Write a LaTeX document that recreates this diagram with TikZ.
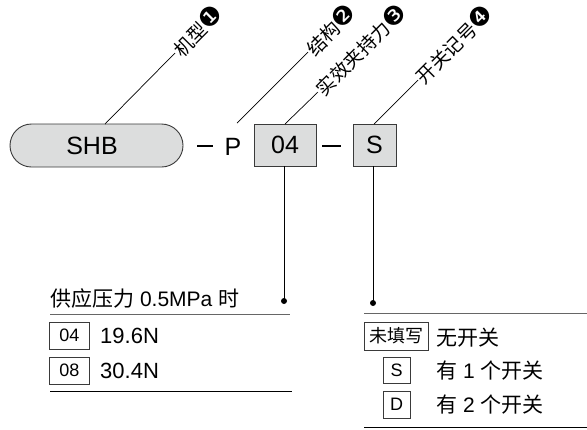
\documentclass[tikz,border=0pt]{standalone}
\usepackage{fontspec}
\setmainfont{Liberation Sans}
\newfontfamily\cjk{Noto Sans CJK SC}
\newfontfamily\dvs[Scale=1.35]{DejaVu Sans}
\usetikzlibrary{shapes.misc}
\definecolor{boxfill}{HTML}{DCDDDD}
\definecolor{edgecol}{HTML}{3A3A3A}
\definecolor{rulecol}{HTML}{666666}
\newcommand\fsz[1]{\fontsize{#1bp}{#1bp}\selectfont}
\tikzset{
  codebox/.style={draw=edgecol, line width=0.9bp, fill=boxfill, inner sep=0pt, font=\fsz{25}},
  tbox/.style={draw=edgecol, line width=0.9bp, inner sep=0pt, font=\fsz{18}},
  leader/.style={line width=0.7bp},
  lbl/.style={anchor=west, rotate=45, inner sep=1bp, font=\fsz{19}},
  big/.style={inner sep=0pt, font=\fsz{25}},
  rowtxt/.style={anchor=west, inner sep=0pt, font=\fsz{22}},
  stem/.style={line width=0.9bp},
  dotmark/.style={circle, fill=black, inner sep=0pt, minimum size=6bp},
  hrule/.style={line width=1bp, draw=rulecol},
  brule/.style={line width=1bp, draw=black}
}
\begin{document}
\begin{tikzpicture}[x=1bp, y=-1bp]
\useasboundingbox (0,0) rectangle (587,429);
% code row
\node[codebox, rounded rectangle, minimum width=173bp, minimum height=43bp] (pill) at (96.5,145.5) {};
\node[big] (shb) at (92,146) {SHB};
\coordinate (d1a) at (197,146);
\coordinate (d1b) at (213,146);
\draw[line width=1.2bp] (d1a) -- (d1b);
\node[big] (p) at (233,147) {P};
\node[codebox, minimum width=62bp, minimum height=42bp] (b04) at (285,145) {04};
\coordinate (d2a) at (322,146);
\coordinate (d2b) at (341,146);
\draw[line width=1.2bp] (d2a) -- (d2b);
\node[codebox, minimum width=43bp, minimum height=42bp] (bS) at (374.5,145) {S};
% leaders
\coordinate (l1a) at (105,124);
\coordinate (l1b) at (175,53);
\coordinate (l2a) at (237,123);
\coordinate (l2b) at (308,52);
\coordinate (l3a) at (285,124);
\coordinate (l3b) at (318,92);
\coordinate (l4a) at (374,124);
\coordinate (l4b) at (418,80);
\draw[leader] (l1a) -- (l1b);
\draw[leader] (l2a) -- (l2b);
\draw[leader] (l3a) -- (l3b);
\draw[leader] (l4a) -- (l4b);
\node[lbl] (t1) at (l1b) {{\cjk 机型}{\dvs ❶}};
\node[lbl] (t2) at (l2b) {{\cjk 结构}{\dvs ❷}};
\node[lbl] (t3) at (l3b) {{\cjk 实效夹持力}{\dvs ❸}};
\node[lbl] (t4) at (l4b) {{\cjk 开关记号}{\dvs ❹}};
% stems
\node[dotmark] (dot1) at (284,301) {};
\node[dotmark] (dot2) at (373,303) {};
\draw[stem] (b04.south -| dot1) -- (dot1.center);
\draw[stem] (bS.south -| dot2) -- (dot2.center);
% table 1
\node[anchor=west, inner sep=0pt, font=\fsz{21}] (h1) at (50,298) {{\cjk 供应压力} 0.5MPa {\cjk 时}};
\coordinate (h1l) at (50,314);
\coordinate (h1r) at (290,314);
\draw[hrule] (h1l) -- (h1r);
\node[tbox, minimum width=40bp, minimum height=27.5bp] (t04) at (69.5,335.75) {04};
\node[rowtxt] (v04) at (100,336) {19.6N};
\node[tbox, minimum width=40bp, minimum height=27bp] (t08) at (69.5,370.5) {08};
\node[rowtxt] (v08) at (100,371) {30.4N};
\coordinate (b1l) at (50,391);
\coordinate (b1r) at (292,391);
\draw[brule] (b1l) -- (b1r);
% table 2
\coordinate (h2l) at (364,313.5);
\coordinate (h2r) at (587,313.5);
\draw[hrule] (h2l) -- (h2r);
\node[tbox, minimum width=64bp, minimum height=28bp, font=\fsz{18}\cjk] (tn) at (396,336) {未填写};
\node[rowtxt, font=\fsz{21}] (vn) at (436,338) {{\cjk 无开关}};
\node[tbox, minimum width=27bp, minimum height=26bp] (tS) at (396.5,370) {S};
\node[rowtxt, font=\fsz{21}] (vS) at (436,371) {{\cjk 有} 1 {\cjk 个开关}};
\node[tbox, minimum width=27bp, minimum height=27bp] (tD) at (396.5,404.5) {D};
\node[rowtxt, font=\fsz{21}] (vD) at (436,405) {{\cjk 有} 2 {\cjk 个开关}};
\coordinate (b2l) at (364,427);
\coordinate (b2r) at (587,427);
\draw[brule] (b2l) -- (b2r);
\end{tikzpicture}
\end{document}
